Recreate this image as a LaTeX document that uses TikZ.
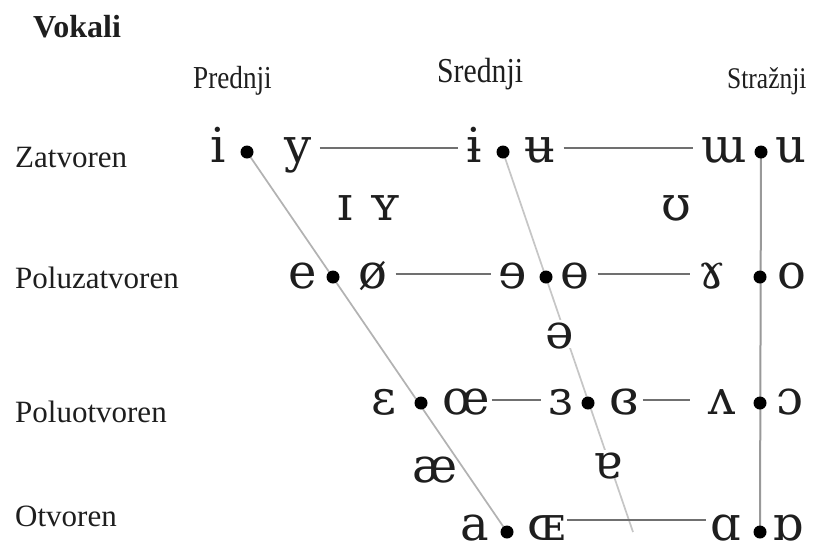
\documentclass[tikz,border=0pt]{standalone}
\usepackage{fontspec}
\setmainfont{Liberation Serif}
\newfontfamily\ipafont{DejaVu Serif}
\newfontfamily\headfont[FakeStretch=0.85]{Liberation Serif}
\definecolor{ink}{HTML}{1E1E1E}
\definecolor{rule}{HTML}{707070}
\tikzset{
  ipa/.style={font=\ipafont\fontsize{48}{48}\selectfont, text=ink, anchor=base,
    inner sep=0pt, text height=28pt, text depth=0pt},
  ipamask/.style={ipa, fill=white},
  dotmark/.style={fill=black},
  rowlabel/.style={font=\fontsize{31}{31}\selectfont, text=ink, anchor=base west, inner sep=0pt},
  collabel/.style={anchor=base west, text=ink, inner sep=0pt},
  hline/.style={draw=rule, line width=2pt},
  frontline/.style={draw=gray!60, line width=1.7pt},
  midline/.style={draw=gray!45, line width=1.7pt},
  backline/.style={draw=gray!80, line width=2pt},
}
\begin{document}
\begin{tikzpicture}[x=1pt, y=-1pt]
\useasboundingbox[fill=white] (0,0) rectangle (814,550);

% headings
\node[collabel, font=\bfseries\fontsize{32}{32}\selectfont] (title) at (33,37) {Vokali};
\node[collabel, font=\headfont\fontsize{32}{32}\selectfont] (front) at (193,88) {Prednji};
\node[collabel, font=\headfont\fontsize{35}{35}\selectfont] (central) at (437,82) {Srednji};
\node[collabel, font=\headfont\fontsize{30}{30}\selectfont] (back) at (727,88) {Stražnji};

% row labels
\node[rowlabel] (close) at (15,167) {Zatvoren};
\node[rowlabel] (closemid) at (15,288) {Poluzatvoren};
\node[rowlabel] (openmid) at (15,422) {Poluotvoren};
\node[rowlabel] (open) at (15,526) {Otvoren};

% points of the chart frame
\coordinate (d1f) at (247,152);
\coordinate (d1c) at (503,152);
\coordinate (d1b) at (761,152);
\coordinate (d2f) at (333,277);
\coordinate (d2c) at (546,277);
\coordinate (d2b) at (760,277);
\coordinate (d3f) at (421,403);
\coordinate (d3c) at (588,403);
\coordinate (d3b) at (760,403);
\coordinate (d4f) at (507,532);
\coordinate (d4b) at (760,532);
\coordinate (c4) at (633,532);

% frame lines
\draw[frontline] (d1f) -- (d4f);
\draw[midline] (d1c) -- (c4);
\draw[backline] (d1b) -- (d4b);

% dots
\foreach \p in {d1f,d1c,d1b,d2f,d2c,d2b,d3f,d3c,d3b,d4f,d4b}
  \fill[dotmark] (\p) circle[radius=6.5pt];

% vowel symbols
\node[ipa] (i) at (218,162) {i};
\node[ipa] (y) at (298,162) {y};
\node[ipa] (ibar) at (474,162) {ɨ};
\node[ipa] (ubar) at (540,162) {ʉ};
\node[ipa] (mu) at (724,162) {ɯ};
\node[ipa] (u) at (791,162) {u};

\node[ipa] (smalli) at (345,220) {ɪ};
\node[ipa] (smally) at (385,220) {ʏ};
\node[ipa] (upsilon) at (676,220) {ʊ};

\node[ipa] (e) at (303,288) {e};
\node[ipa] (oslash) at (373,288) {ø};
\node[ipa] (reve) at (513,288) {ɘ};
\node[ipa] (obar) at (575,288) {ɵ};
\node[ipa] (ramshorn) at (712,288) {ɤ};
\node[ipa] (o) at (792,288) {o};

\node[ipamask] (schwa) at (560,348) {ə};

\node[ipa] (epsilon) at (384,414) {ɛ};
\node[ipa] (oe) at (466,414) {œ};
\node[ipa] (revepsilon) at (561,414) {ɜ};
\node[ipa] (closedrev) at (624,414) {ɞ};
\node[ipa] (wedge) at (722,414) {ʌ};
\node[ipa] (openo) at (790,414) {ɔ};

\node[ipa] (ash) at (435,482) {æ};
\node[ipamask] (turneda) at (608,478) {ɐ};

\node[ipa] (a) at (475,540) {a};
\node[ipa] (OE) at (546,540) {ɶ};
\node[ipa] (alpha) at (726,540) {ɑ};
\node[ipa] (turnedalpha) at (788,540) {ɒ};

% horizontal rules between the symbols
\draw[hline, shorten <=8pt, shorten >=8pt] (y.east) -- (ibar.west);
\draw[hline, shorten <=8pt, shorten >=8pt] (ubar.east) -- (mu.west);
\draw[hline, shorten <=8pt, shorten >=8pt] (oslash.east) -- (reve.west);
\draw[hline, shorten <=8pt, shorten >=8pt] (obar.east) -- (ramshorn.west);
\draw[hline, shorten <=2pt, shorten >=8pt] (oe.east) -- (revepsilon.west);
\draw[hline, shorten <=4pt, shorten >=18pt] (closedrev.east) -- (wedge.west);
\draw[hline, shorten <=2pt, shorten >=4pt] ([yshift=6pt]OE.east) -- ([yshift=6pt]alpha.west);
\end{tikzpicture}
\end{document}
